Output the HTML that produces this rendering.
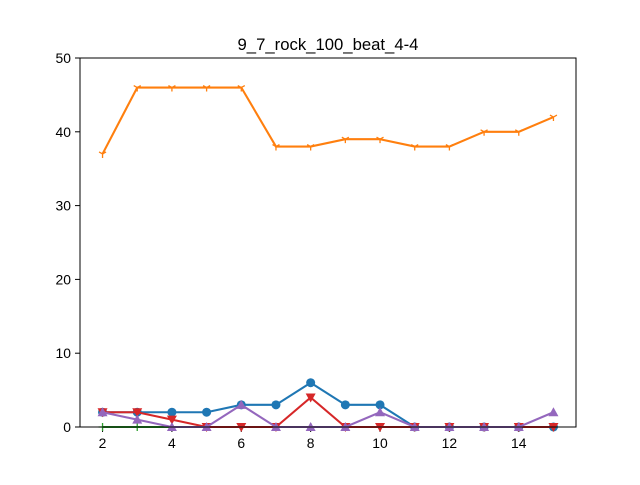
<!DOCTYPE html>
<html><head><meta charset="utf-8"><style>
body{margin:0;background:#fff;font-family:"Liberation Sans",sans-serif}
</style></head><body>
<svg id="chart" width="640" height="480" xmlns="http://www.w3.org/2000/svg" font-family="Liberation Sans, sans-serif">
<rect width="640" height="480" fill="#fff"/>
<text x="328" y="50" text-anchor="middle" font-size="16.7">9_7_rock_100_beat_4-4</text>
<g id="plot"></g>
<rect x="80" y="58" width="496" height="369" fill="none" stroke="#000" stroke-width="1"/>
</svg>
<script>
const xs=[2,3,4,5,6,7,8,9,10,11,12,13,14,15];
const orange=[37,46,46,46,46,38,38,39,39,38,38,40,40,42];
const blue=[2,2,2,2,3,3,6,3,3,0,0,0,0,0];
const green=[0,0,0,0,0,0,0,0,0,0,0,0,0,0];
const red=[2,2,1,0,0,0,4,0,0,0,0,0,0,0];
const purple=[2,1,0,0,3,0,0,0,2,0,0,0,0,2];
const xTicks=[2,4,6,8,10,12,14];
const yTicks=[0,10,20,30,40,50];
const X=v=>80+(v-1.35)*496/14.3;
const Y=v=>427-v*369/50;
const NS='http://www.w3.org/2000/svg';
const g=document.getElementById('plot');
function mk(t,a){const e=document.createElementNS(NS,t);for(const k in a)e.setAttribute(k,a[k]);g.appendChild(e);return e;}
xTicks.forEach(t=>{
 const l=mk('line',{x1:X(t),x2:X(t),y1:427,y2:432,stroke:'#000'});
 
 
 const s=mk('text',{x:X(t),y:448,'text-anchor':'middle','font-size':13.9});s.textContent=t;
 
 
});
yTicks.forEach(t=>{
 const l=mk('line',{x1:75,x2:80,y1:Y(t),y2:Y(t),stroke:'#000'});
 
 
 const s=mk('text',{x:71,y:Y(t)+5,'text-anchor':'end','font-size':13.9});s.textContent=t;
 
 
});
function series(vals,color,marker,name){
 const p=mk('polyline',{points:vals.map((v,i)=>X(xs[i])+','+Y(v)).join(' '),fill:'none',stroke:color,'stroke-width':2.1});
 
 
 vals.forEach((v,i)=>{
  const x=X(xs[i]),y=Y(v);let m;
  if(marker==='o')m=mk('circle',{cx:x,cy:y,r:4.5,fill:color});
  else if(marker==='^')m=mk('polygon',{points:`${x},${y-5} ${x-5},${y+4} ${x+5},${y+4}`,fill:color});
  else if(marker==='v')m=mk('polygon',{points:`${x},${y+5} ${x-5},${y-4} ${x+5},${y-4}`,fill:color});
  else if(marker==='1')m=mk('path',{d:`M${x},${y}V${y+4}M${x},${y}L${x-3.5},${y-2}M${x},${y}L${x+3.5},${y-2}`,stroke:color,'stroke-width':1.3,fill:'none'});
  else m=mk('path',{d:`M${x-4},${y}H${x+4}M${x},${y-4}V${y+4}`,stroke:color,'stroke-width':1.3});
  
  
 });
}
series(orange,'#ff7f0e','1','orange-series');
series(blue,'#1f77b4','o','blue-series');
series(green,'#2ca02c','+','green-series');
series(red,'#d62728','v','red-series');
series(purple,'#9467bd','^','purple-series');
</script>
</body></html>
